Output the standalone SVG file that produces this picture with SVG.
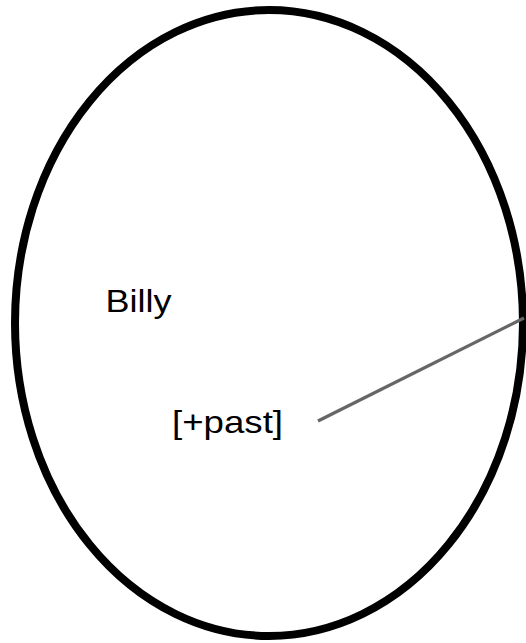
<svg xmlns="http://www.w3.org/2000/svg" width="526" height="643" viewBox="0 0 526 643">
  <style>
    .lbl { font-family: "Liberation Sans", Arial, sans-serif; font-size: 32px; fill: #000; }
    .shape { fill: none; stroke: #000; stroke-width: 8; }
    .conn { stroke: #666; stroke-width: 3.3; fill: none; }
  </style>
  <rect width="526" height="643" fill="#fff"/>
  <g id="ellipse-node">
    <ellipse class="shape" cx="269" cy="323" rx="254" ry="313"/>
  </g>
  <g id="billy">
    <text class="lbl" x="105.5" y="312" textLength="66" lengthAdjust="spacingAndGlyphs">Billy</text>
  </g>
  <g id="past">
    <text class="lbl" x="172" y="433" textLength="111" lengthAdjust="spacingAndGlyphs">[+past]</text>
  </g>
  <g id="connectors">
    <line class="conn" x1="318" y1="421" x2="524" y2="318"/>
  </g>
</svg>
